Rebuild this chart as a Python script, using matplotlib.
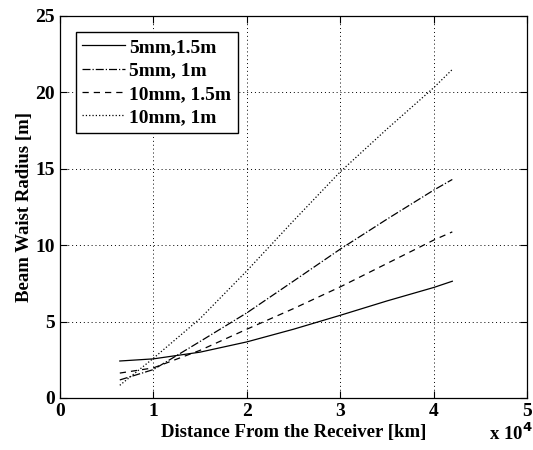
import matplotlib
matplotlib.use('Agg')
import matplotlib.pyplot as plt
from matplotlib.ticker import FuncFormatter

# Données (distance en km)
distance = [6400, 10000, 15000, 20000, 25000, 30000, 35000, 40000, 42000]
w_5mm_15m = [2.42, 2.56, 3.0, 3.67, 4.5, 5.41, 6.35, 7.23, 7.64]
w_5mm_1m = [1.18, 1.86, 3.7, 5.57, 7.65, 9.74, 11.7, 13.6, 14.3]
w_10mm_15m = [1.63, 1.97, 3.12, 4.5, 5.85, 7.27, 8.8, 10.33, 10.87]
w_10mm_1m = [0.83, 2.6, 5.2, 8.32, 11.6, 14.8, 17.6, 20.3, 21.5]
labels = ['5mm,1.5m', '5mm, 1m', '10mm, 1.5m', '10mm, 1m']

plt.rcParams['font.family'] = ['Liberation Serif', 'DejaVu Serif']
plt.rcParams['font.weight'] = 'bold'

fig = plt.figure(figsize=(5.33, 4.5), dpi=100)
ax = fig.add_axes([0.1126, 0.1156, 0.8762, 0.8489])

ax.plot(distance, w_5mm_15m, 'k-', lw=0.9, label=labels[0])
ax.plot(distance, w_5mm_1m, 'k-.', lw=0.9, label=labels[1])
ax.plot(distance, w_10mm_15m, color='k', linestyle=(0, (5, 4)), lw=0.9, label=labels[2])
ax.plot(distance, w_10mm_1m, 'k:', lw=0.9, label=labels[3])

ax.set_xlim(0, 50000)
ax.set_ylim(0, 25)
ax.set_xticks([0, 10000, 20000, 30000, 40000, 50000])
ax.set_yticks([0, 5, 10, 15, 20, 25])
ax.xaxis.set_major_formatter(FuncFormatter(lambda v, p: '%d' % round(v / 10000)))
ax.tick_params(direction='in', length=5, width=0.8, labelsize=14, top=True, right=True)
for t in ax.get_xticklabels() + ax.get_yticklabels():
    t.set_fontweight('bold')
ax.grid(True, color='k', linestyle=(0, (1, 3)), linewidth=0.7)
for s in ax.spines.values():
    s.set_linewidth(0.9)

ax.set_xlabel('Distance From the Receiver [km]', fontsize=13.5, fontweight='bold', labelpad=3)
ax.set_ylabel('Beam Waist Radius [m]', fontsize=13.5, fontweight='bold', labelpad=2)
fig.text(0.918, 0.022, 'x 10$^\\mathbf{4}$', fontsize=13.5, fontweight='bold')

leg = ax.legend(loc='upper left', prop={'size': 14, 'weight': 'bold'}, fancybox=False,
                framealpha=1, edgecolor='k', handlelength=2.2, handletextpad=0.2,
                borderpad=0.35, labelspacing=0.3, borderaxespad=0.8)
leg.get_frame().set_linewidth(1.0)

plt.savefig('out.png', dpi=100)
plt.close()
